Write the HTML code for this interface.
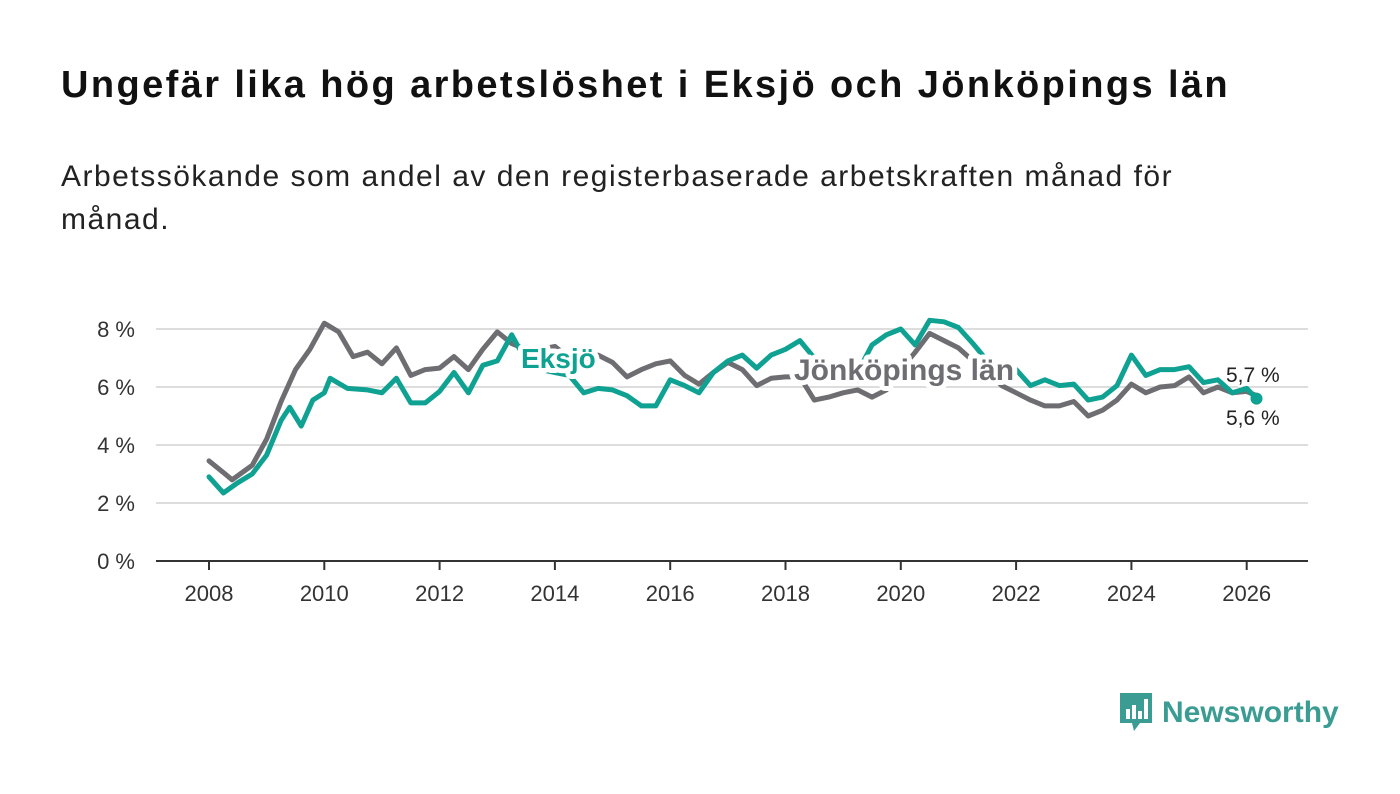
<!DOCTYPE html>
<html><head><meta charset="utf-8">
<style>
body{margin:0;background:#fff;font-family:"Liberation Sans",sans-serif;}
#wrap{position:relative;width:1400px;height:794px;overflow:hidden;}
h1{position:absolute;left:61px;top:64px;margin:0;font-size:38px;font-weight:bold;color:#111;letter-spacing:2.4px;white-space:nowrap;}
.sub{position:absolute;left:61px;top:155px;margin:0;font-size:30px;letter-spacing:1.5px;line-height:43px;color:#222;width:1200px;}
svg{position:absolute;left:0;top:0;}
</style></head><body>
<div id="wrap">
<h1>Ungefär lika hög arbetslöshet i Eksjö och Jönköpings län</h1>
<p class="sub">Arbetssökande som andel av den registerbaserade arbetskraften månad för månad.</p>
<svg id="chart" width="1400" height="794"></svg>
<div style="position:absolute;left:1118px;top:690px;height:46px;display:flex;align-items:center;">
<svg width="36" height="44" style="position:static"><path d="M2 2h32v30H22l-6 8-2-8H2z" fill="#3a9c92"/><rect x="8" y="18" width="4" height="10" fill="#fff"/><rect x="14" y="14" width="4" height="14" fill="#fff"/><rect x="20" y="20" width="4" height="8" fill="#fff"/><rect x="26" y="8" width="4" height="20" fill="#fff"/></svg>
<span style="font-size:30px;color:#3a9c92;margin-left:8px;font-weight:bold;">Newsworthy</span></div>
</div>
<script>
const jkTime=[2008,2008.25,2008.4,2008.75,2009,2009.25,2009.5,2009.75,2010,2010.25,2010.5,2010.75,2011,2011.25,2011.5,2011.75,2012,2012.25,2012.5,2012.75,2013,2013.25,2013.5,2013.75,2014,2014.25,2014.5,2014.75,2015,2015.25,2015.5,2015.75,2016,2016.25,2016.5,2016.75,2017,2017.25,2017.5,2017.75,2018,2018.25,2018.5,2018.75,2019,2019.25,2019.5,2019.75,2020,2020.25,2020.5,2020.75,2021,2021.25,2021.5,2021.75,2022,2022.25,2022.5,2022.75,2023,2023.25,2023.5,2023.75,2024,2024.25,2024.5,2024.75,2025,2025.25,2025.5,2025.75,2026,2026.17];
const jkValues=[3.45,3.05,2.8,3.3,4.2,5.5,6.6,7.3,8.2,7.9,7.05,7.2,6.8,7.35,6.4,6.6,6.65,7.05,6.6,7.3,7.9,7.5,7.3,7.3,7.4,7.0,6.75,7.1,6.85,6.35,6.6,6.8,6.9,6.4,6.1,6.5,6.85,6.6,6.05,6.3,6.35,6.35,5.55,5.65,5.8,5.9,5.65,5.9,6.6,7.2,7.85,7.6,7.35,6.9,6.55,6.05,5.8,5.55,5.35,5.35,5.5,5.0,5.2,5.55,6.1,5.8,6.0,6.05,6.35,5.8,6.0,5.8,5.85,5.7];
const ekTime=[2008,2008.25,2008.5,2008.75,2009,2009.25,2009.4,2009.6,2009.8,2010,2010.1,2010.4,2010.75,2011,2011.25,2011.5,2011.75,2012,2012.25,2012.5,2012.75,2013,2013.25,2013.5,2013.75,2014,2014.25,2014.5,2014.75,2015,2015.25,2015.5,2015.75,2016,2016.25,2016.5,2016.75,2017,2017.25,2017.5,2017.75,2018,2018.25,2018.5,2018.75,2019,2019.25,2019.5,2019.75,2020,2020.25,2020.5,2020.75,2021,2021.25,2021.5,2021.75,2022,2022.25,2022.5,2022.75,2023,2023.25,2023.5,2023.75,2024,2024.25,2024.5,2024.75,2025,2025.25,2025.5,2025.75,2026,2026.17];
const ekValues=[2.9,2.35,2.7,3.0,3.65,4.85,5.3,4.65,5.55,5.8,6.3,5.95,5.9,5.8,6.3,5.45,5.45,5.85,6.5,5.8,6.75,6.9,7.8,6.9,6.6,6.5,6.4,5.8,5.95,5.9,5.7,5.35,5.35,6.25,6.05,5.8,6.5,6.9,7.1,6.65,7.1,7.3,7.6,7.0,6.8,6.7,6.5,7.45,7.8,8.0,7.45,8.3,8.25,8.05,7.5,6.9,6.7,6.6,6.05,6.25,6.05,6.1,5.55,5.65,6.05,7.1,6.4,6.6,6.6,6.7,6.15,6.25,5.8,5.95,5.6];
const yTicks=[0,2,4,6,8];
const xTicks=[2008,2010,2012,2014,2016,2018,2020,2022,2024,2026];
const endLabels=["5,7 %","5,6 %"];
const NS="http://www.w3.org/2000/svg";
const svg=document.getElementById('chart');
const x=t=>209+(t-2008)*57.65;
const y=v=>561-v*29;
function mk(tag,attrs,parent){const e=document.createElementNS(NS,tag);for(const k in attrs)e.setAttribute(k,attrs[k]);(parent||svg).appendChild(e);return e;}
yTicks.forEach(v=>{
  const l=mk('line',{x1:156,x2:1308,y1:y(v),y2:y(v),stroke:v===0?'#333':'#ddd','stroke-width':2});
  
  
  const t=mk('text',{x:135,y:y(v)+8,'text-anchor':'end','font-size':22,fill:'#333'});
  t.textContent=v+' %';
  
  
});
xTicks.forEach(v=>{
  const l=mk('line',{x1:x(v),x2:x(v),y1:561,y2:570,stroke:'#333','stroke-width':2});
  
  
  const t=mk('text',{x:x(v),y:601,'text-anchor':'middle','font-size':22,fill:'#333'});
  t.textContent=v;
  
  
});
function line(ts,vs,color,name){
  const d=ts.map((t,i)=>(i?'L':'M')+x(t).toFixed(1)+' '+y(vs[i]).toFixed(1)).join('');
  const p=mk('path',{d:d,fill:'none',stroke:color,'stroke-width':5,'stroke-linejoin':'round','stroke-linecap':'round'});
  
  
}
line(jkTime,jkValues,'#6e6d72','jonkoping-line');
line(ekTime,ekValues,'#0fa191','eksjo-line');
const dot=mk('circle',{cx:x(ekTime[ekTime.length-1]),cy:y(ekValues[ekValues.length-1]),r:6,fill:'#0fa191'});


function label(txt,xx,yy,color,size,bold,name){
  const t=mk('text',{x:xx,y:yy,'font-size':size,'font-weight':bold?'bold':'normal',fill:color,stroke:'#fff','stroke-width':bold?10:5,'paint-order':'stroke','stroke-linejoin':'round'});
  t.textContent=txt;
  
  
}
label('Eksjö',521,368,'#0fa191',28,true,'eksjo-label');
label('Jönköpings län',794,380,'#6e6d72',30,true,'jonkoping-label');
label(endLabels[0],1226,382,'#222',21,false,'jonkoping-end-label');
label(endLabels[1],1226,425,'#222',21,false,'eksjo-end-label');
</script>
</body></html>
